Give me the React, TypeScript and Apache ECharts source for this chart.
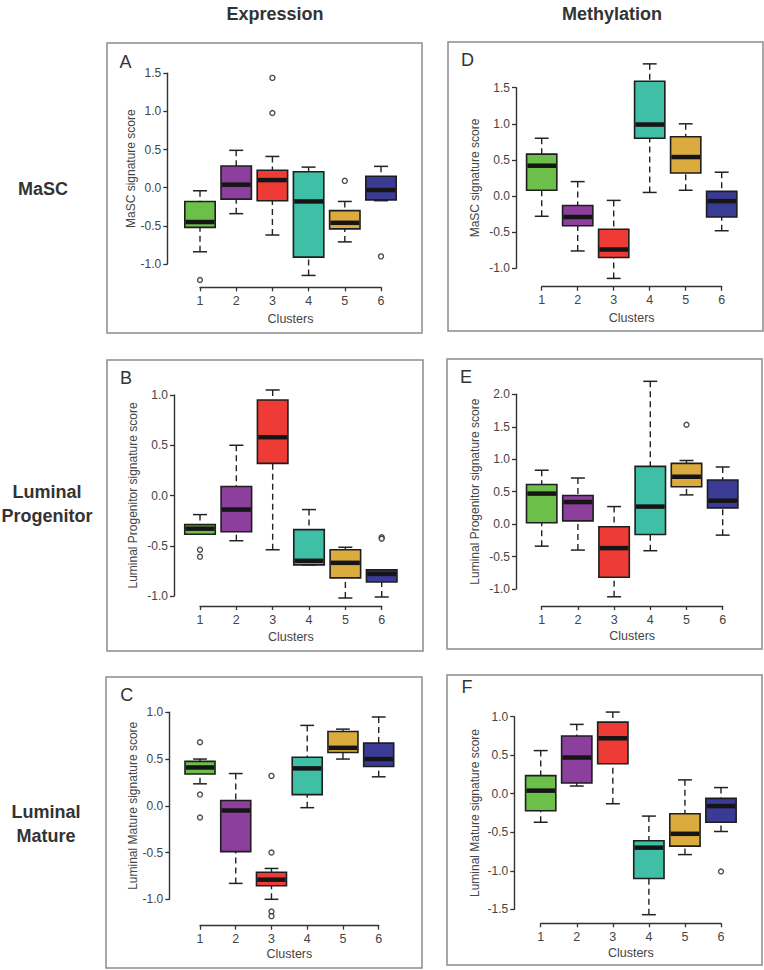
import { useEffect, useRef } from 'react';
import * as echarts from 'echarts';

const CLUSTERS = ['1', '2', '3', '4', '5', '6'];
const COLORS = ['#6cbf48', '#8c3f9c', '#ee3b35', '#3ebfa6', '#dcab3e', '#3a3b94'];

// Each row: [lower whisker, Q1, median, Q3, upper whisker] for clusters 1..6
const EXPR_MASC = [
  [-0.84, -0.52, -0.45, -0.18, -0.04],
  [-0.34, -0.15, 0.04, 0.285, 0.49],
  [-0.62, -0.17, 0.1, 0.23, 0.41],
  [-1.15, -0.91, -0.18, 0.21, 0.27],
  [-0.71, -0.54, -0.46, -0.3, -0.18],
  [-0.17, -0.16, -0.03, 0.15, 0.28],
];
const EXPR_MASC_OUT = [[1, -1.21], [3, 1.44], [3, 0.98], [5, 0.09], [6, -0.9]];

const EXPR_LP = [
  [-0.385, -0.385, -0.33, -0.29, -0.19],
  [-0.45, -0.36, -0.14, 0.09, 0.5],
  [-0.54, 0.32, 0.58, 0.95, 1.05],
  [-0.69, -0.69, -0.65, -0.34, -0.14],
  [-1.02, -0.82, -0.67, -0.54, -0.515],
  [-1.01, -0.86, -0.78, -0.74, -0.74],
];
const EXPR_LP_OUT = [[1, -0.54], [1, -0.61], [6, -0.415], [6, -0.43]];

const EXPR_LM = [
  [0.235, 0.34, 0.41, 0.475, 0.5],
  [-0.83, -0.49, -0.05, 0.057, 0.345],
  [-1.0, -0.855, -0.79, -0.71, -0.67],
  [-0.02, 0.12, 0.4, 0.52, 0.86],
  [0.5, 0.57, 0.62, 0.795, 0.82],
  [0.31, 0.42, 0.5, 0.67, 0.95],
];
const EXPR_LM_OUT = [[1, 0.68], [1, 0.12], [1, -0.125], [3, 0.32], [3, -0.5], [3, -1.13], [3, -1.18]];

const METH_MASC = [
  [-0.28, 0.08, 0.42, 0.58, 0.8],
  [-0.76, -0.41, -0.29, -0.13, 0.2],
  [-1.14, -0.85, -0.74, -0.46, -0.06],
  [0.05, 0.8, 0.99, 1.59, 1.83],
  [0.08, 0.32, 0.54, 0.82, 1.0],
  [-0.48, -0.29, -0.07, 0.065, 0.33],
];
const METH_MASC_OUT: number[][] = [];

const METH_LP = [
  [-0.34, 0.02, 0.47, 0.61, 0.83],
  [-0.4, 0.05, 0.34, 0.44, 0.71],
  [-1.12, -0.82, -0.37, -0.04, 0.27],
  [-0.41, -0.16, 0.27, 0.89, 2.2],
  [0.45, 0.575, 0.73, 0.935, 0.98],
  [-0.17, 0.25, 0.36, 0.68, 0.88],
];
const METH_LP_OUT = [[5, 1.53]];

const METH_LM = [
  [-0.37, -0.22, 0.04, 0.235, 0.56],
  [0.1, 0.14, 0.47, 0.75, 0.9],
  [-0.13, 0.39, 0.72, 0.93, 1.06],
  [-1.57, -1.1, -0.7, -0.61, -0.29],
  [-0.79, -0.68, -0.52, -0.26, 0.18],
  [-0.49, -0.37, -0.16, -0.06, 0.08],
];
const METH_LM_OUT = [[6, -1.01]];

const Y_TITLE_MASC = 'MaSC signature score';
const Y_TITLE_LP = 'Luminal Progenitor signature score';
const Y_TITLE_LM = 'Luminal Mature signature score';
const X_TITLE = 'Clusters';
const COLUMN_TITLES = ['Expression', 'Methylation'];
const ROW_TITLES = ['MaSC', 'Luminal\nProgenitor', 'Luminal\nMature'];

const FONT = '"Liberation Sans", Arial, Helvetica, sans-serif';

const PANELS = [
  { letter: 'A', boxes: EXPR_MASC, out: EXPR_MASC_OUT, yName: Y_TITLE_MASC, min: -1, max: 1.5,
    grid: [200, 73.3, 181, 190.7], xOff: 23.3, yOff: 32.7, yGap: 28, xGap: 25, frame: [107, 43, 315, 290], lpos: [125.5, 61.5] },
  { letter: 'B', boxes: EXPR_LP, out: EXPR_LP_OUT, yName: Y_TITLE_LP, min: -1, max: 1,
    grid: [200, 395, 181.7, 201], xOff: 10, yOff: 26, yGap: 35, xGap: 24, frame: [107, 360, 316, 291], lpos: [126, 378] },
  { letter: 'C', boxes: EXPR_LM, out: EXPR_LM_OUT, yName: Y_TITLE_LM, min: -1, max: 1,
    grid: [200, 712.3, 178.7, 187], xOff: 26.4, yOff: 30.7, yGap: 30, xGap: 21.5, frame: [106, 677, 316, 291], lpos: [126.7, 695] },
  { letter: 'D', boxes: METH_MASC, out: METH_MASC_OUT, yName: Y_TITLE_MASC, min: -1, max: 1.5,
    grid: [541.7, 87.7, 180, 180.6], xOff: 18.4, yOff: 25.7, yGap: 35, xGap: 24.3, frame: [448, 42, 315, 289], lpos: [467.5, 60.3] },
  { letter: 'E', boxes: METH_LP, out: METH_LP_OUT, yName: Y_TITLE_LP, min: -1, max: 2,
    grid: [541.7, 394.3, 181, 194.7], xOff: 17, yOff: 25.7, yGap: 35, xGap: 23, frame: [447, 359, 315, 290], lpos: [466, 377] },
  { letter: 'F', boxes: METH_LM, out: METH_LM_OUT, yName: Y_TITLE_LM, min: -1.5, max: 1,
    grid: [540.7, 716.7, 180.3, 192.6], xOff: 14, yOff: 26.4, yGap: 33, xGap: 23.4, frame: [447, 675, 315, 290], lpos: [467, 686.7] },
];

function buildOption() {
  const grids: any[] = [];
  const xAxes: any[] = [];
  const yAxes: any[] = [];
  const series: any[] = [];
  const graphics: any[] = [];

  PANELS.forEach((p, i) => {
    grids.push({ left: p.grid[0], top: p.grid[1], width: p.grid[2], height: p.grid[3], containLabel: false, outerBoundsMode: 'none' });
    xAxes.push({
      type: 'value', gridIndex: i, min: 1, max: 6, interval: 1, position: 'bottom', offset: p.xOff,
      name: X_TITLE, nameLocation: 'middle', nameGap: p.xGap,
      nameTextStyle: { color: '#444', fontSize: 12.5, fontFamily: FONT },
      axisLine: { show: true, onZero: false, lineStyle: { color: '#333', width: 1.4 } },
      axisTick: { show: true, length: 4, lineStyle: { color: '#333', width: 1.3 } },
      axisLabel: { margin: 7, color: '#444', fontSize: 12.5, fontFamily: FONT, formatter: (v: number) => CLUSTERS[v - 1] ?? '' },
      splitLine: { show: false },
    });
    yAxes.push({
      type: 'value', gridIndex: i, min: p.min, max: p.max, interval: 0.5, position: 'left', offset: p.yOff,
      name: p.yName, nameLocation: 'middle', nameGap: p.yGap,
      nameTextStyle: { color: '#444', fontSize: 12, fontFamily: FONT },
      axisLine: { show: true, onZero: false, lineStyle: { color: '#333', width: 1.4 } },
      axisTick: { show: true, length: 4, lineStyle: { color: '#333', width: 1.3 } },
      axisLabel: { margin: 6, color: '#444', fontSize: 12, fontFamily: FONT, formatter: (v: number) => v.toFixed(1) },
      splitLine: { show: false },
    });
    series.push({
      type: 'custom', xAxisIndex: i, yAxisIndex: i, clip: false,
      encode: { x: 0, y: [1, 2, 3, 4, 5] },
      data: p.boxes.map((b, k) => [k + 1, ...b]),
      renderItem: (params: any, api: any) => {
        const x = api.value(0);
        const lo = api.coord([x, api.value(1)]);
        const q1 = api.coord([x, api.value(2)]);
        const med = api.coord([x, api.value(3)]);
        const q3 = api.coord([x, api.value(4)]);
        const hi = api.coord([x, api.value(5)]);
        const band = api.size([1, 0])[0];
        const bw = band * 0.84;
        const cw = bw * 0.46;
        const cx = q1[0];
        const color = COLORS[(x - 1) % COLORS.length];
        const whisk = { stroke: '#222', lineWidth: 1.4, lineDash: [6, 4] };
        const cap = { stroke: '#222', lineWidth: 1.5 };
        return {
          type: 'group',
          children: [
            { type: 'line', shape: { x1: cx, y1: hi[1], x2: cx, y2: q3[1] }, style: whisk },
            { type: 'line', shape: { x1: cx, y1: lo[1], x2: cx, y2: q1[1] }, style: whisk },
            { type: 'line', shape: { x1: cx - cw / 2, y1: hi[1], x2: cx + cw / 2, y2: hi[1] }, style: cap },
            { type: 'line', shape: { x1: cx - cw / 2, y1: lo[1], x2: cx + cw / 2, y2: lo[1] }, style: cap },
            { type: 'rect', shape: { x: cx - bw / 2, y: q3[1], width: bw, height: q1[1] - q3[1] },
              style: { fill: color, stroke: '#1e1e1e', lineWidth: 1.6 } },
            { type: 'line', shape: { x1: cx - bw / 2 + 0.8, y1: med[1], x2: cx + bw / 2 - 0.8, y2: med[1] },
              style: { stroke: '#151515', lineWidth: 4.5 } },
          ],
        };
      },
    });
    series.push({
      type: 'scatter', xAxisIndex: i, yAxisIndex: i, clip: false,
      symbol: 'circle', symbolSize: 5,
      itemStyle: { color: '#fff', borderColor: '#222', borderWidth: 1.4 },
      data: p.out,
    });
    graphics.push({
      type: 'rect', shape: { x: p.frame[0], y: p.frame[1], width: p.frame[2], height: p.frame[3] },
      style: { fill: 'none', stroke: '#8c8c8c', lineWidth: 1.5 }, silent: true, z: -1,
    });
    graphics.push({
      type: 'text', x: p.lpos[0], y: p.lpos[1],
      style: { text: p.letter, fill: '#333', font: `18px ${FONT}`, textAlign: 'center', textVerticalAlign: 'middle' },
    });
  });

  graphics.push({ type: 'text', x: 275, y: 14,
    style: { text: COLUMN_TITLES[0], fill: '#333', font: `bold 18px ${FONT}`, textAlign: 'center', textVerticalAlign: 'middle' } });
  graphics.push({ type: 'text', x: 612, y: 14,
    style: { text: COLUMN_TITLES[1], fill: '#333', font: `bold 18px ${FONT}`, textAlign: 'center', textVerticalAlign: 'middle' } });
  const rowY = [188.5, 503.5, 824];
  const rowX = [43, 47, 46];
  ROW_TITLES.forEach((t, r) => {
    graphics.push({ type: 'text', x: rowX[r], y: rowY[r],
      style: { text: t, fill: '#333', font: `bold 18px ${FONT}`, lineHeight: 24, textAlign: 'center', textVerticalAlign: 'middle' } });
  });

  return {
    animation: false,
    backgroundColor: '#ffffff',
    textStyle: { fontFamily: FONT },
    grid: grids,
    xAxis: xAxes,
    yAxis: yAxes,
    series,
    graphic: graphics,
  };
}

export default function App() {
  const ref = useRef<HTMLDivElement>(null);
  useEffect(() => {
    if (!ref.current) return;
    const chart = echarts.init(ref.current, null, { renderer: 'svg', width: 764, height: 970 });
    chart.setOption(buildOption() as any);
    return () => chart.dispose();
  }, []);
  return <div ref={ref} style={{ position: 'absolute', left: 0, top: 0, width: 764, height: 970 }} />;
}
